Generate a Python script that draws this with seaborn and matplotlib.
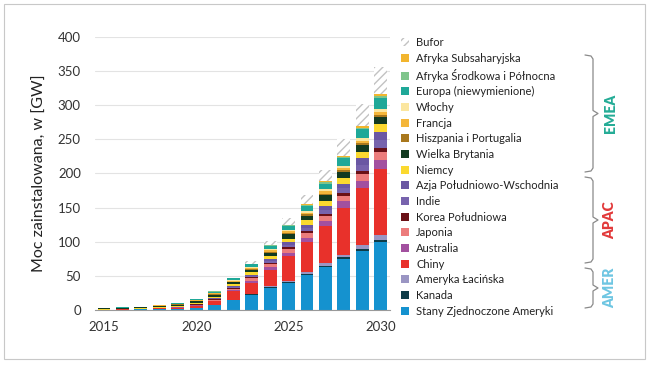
# Moc zainstalowana wg regionów, 2015-2030 (wykres słupkowy skumulowany)
import pandas as pd
import matplotlib
matplotlib.use('Agg')
import matplotlib.pyplot as plt
from matplotlib.patches import Patch, Rectangle
from matplotlib.lines import Line2D
import seaborn as sns

lata = list(range(2015, 2031))

# wartości w GW (od dołu stosu)
usa = [0.3, 0.4, 0.6, 1.0, 1.5, 3, 7, 14, 22, 32, 40, 51, 63, 75, 87, 99]
kanada = [0, 0, 0, 0.1, 0.1, 0.2, 0.3, 0.5, 1, 1, 1, 1.5, 2, 2, 2.5, 3]
ameryka_lac = [0, 0, 0, 0.1, 0.2, 0.2, 0.3, 0.5, 1, 1.5, 2, 2.5, 3, 4, 6, 8]
chiny = [0.2, 0.3, 0.5, 1.0, 1.5, 3, 5, 12, 16, 24, 36, 45, 55, 69, 83, 96]
australia = [0, 0, 0, 0.1, 0.2, 0.5, 1, 2, 3, 4, 5, 6, 7, 9, 11, 14]
japonia = [0, 0, 0.1, 0.2, 0.4, 0.8, 1.5, 2, 3, 4, 5, 6, 7, 8, 10, 12]
korea = [0, 0, 0.1, 0.2, 0.4, 0.6, 1, 1.5, 2, 2.5, 3, 3.5, 4, 4, 4.5, 5]
indie = [0, 0, 0, 0.1, 0.2, 0.3, 0.5, 1, 1.5, 2.5, 3.5, 4.5, 6, 7, 9, 12]
azja_pw = [0, 0, 0, 0, 0.1, 0.2, 0.5, 1, 1.5, 2.5, 3.5, 4.5, 5.5, 7, 9, 12]
niemcy = [0.5, 0.6, 0.8, 1.0, 1.2, 1.8, 2.5, 3, 4, 5, 5.5, 6.5, 7.5, 8.5, 10, 12]
wielka_br = [1.2, 1.4, 1.5, 1.8, 2, 2.2, 2.5, 3, 4, 5, 6, 7, 8, 9, 9.5, 10]
hiszp_port = [0.2, 0.3, 0.4, 0.5, 0.6, 0.8, 1, 1, 1.5, 1.5, 2, 2, 2.5, 2.5, 3, 3]
francja = [0.1, 0.2, 0.3, 0.4, 0.5, 0.8, 1, 1.5, 1.5, 2, 2.5, 2.5, 3, 3.5, 3.5, 4]
wlochy = [0, 0, 0.1, 0.2, 0.3, 0.4, 0.6, 0.8, 1, 1.5, 2, 2.5, 3, 3, 3.5, 4]
europa = [0.3, 0.4, 0.5, 0.8, 1, 1.5, 2, 2.5, 3.5, 4.5, 6, 7, 8.5, 11, 13, 17]
afryka_sp = [0, 0, 0, 0, 0.1, 0.2, 0.3, 0.5, 0.5, 1, 1, 1.5, 2, 2, 2.5, 3]
afryka_ss = [0, 0, 0, 0, 0, 0.1, 0.2, 0.3, 0.5, 0.5, 1, 1, 1.5, 1.5, 2, 2]
bufor = [0, 0, 0, 0, 0, 0, 0, 0, 4, 6, 9, 14, 17, 24, 32, 40]

# kolejność legendy (od góry)
nazwy = ['Bufor', 'Afryka Subsaharyjska', 'Afryka Środkowa i Północna',
         'Europa (niewymienione)', 'Włochy', 'Francja', 'Hiszpania i Portugalia',
         'Wielka Brytania', 'Niemcy', 'Azja Południowo-Wschodnia', 'Indie',
         'Korea Południowa', 'Japonia', 'Australia', 'Chiny', 'Ameryka Łacińska',
         'Kanada', 'Stany Zjednoczone Ameryki']
serie = [bufor, afryka_ss, afryka_sp, europa, wlochy, francja, hiszp_port,
         wielka_br, niemcy, azja_pw, indie, korea, japonia, australia, chiny,
         ameryka_lac, kanada, usa]
kolory = ['#ffffff', '#f2b52e', '#7fc58c', '#1fa898', '#fbe6a0', '#f4b63a',
          '#a9781d', '#123a20', '#fbd92f', '#6a57a3', '#7763ad', '#6a1016',
          '#ec7c7c', '#a2509f', '#e8312b', '#9a95c3', '#0e3c48', '#1592cf']

df = pd.DataFrame([
    {'rok': r, 'region': n, 'GW': v}
    for n, s in zip(nazwy, serie) for r, v in zip(lata, s)
])

sns.set_style('white')
plt.rcParams['font.family'] = ['Lato', 'DejaVu Sans']

fig = plt.figure(figsize=(6.49, 3.65), dpi=100)
ax = fig.add_axes([0.146, 0.151, 0.455, 0.748])

sns.histplot(data=df, x='rok', weights='GW', hue='region', hue_order=nazwy,
             palette=dict(zip(nazwy, kolory)), multiple='stack', discrete=True,
             shrink=0.7, alpha=1, linewidth=0, legend=False, ax=ax)

# bufor - kreskowanie
for p in ax.patches:
    if p.get_facecolor()[:3] == (1.0, 1.0, 1.0):
        p.set_edgecolor('#c2c2c2')
        p.set_hatch('////')
        p.set_linewidth(0)

ax.set_xlim(2014.5, 2030.5)
ax.set_ylim(0, 400)
ax.set_yticks(range(0, 401, 50))
ax.set_xticks([2015, 2020, 2025, 2030])
ax.set_xticks([x + 0.5 for x in range(2014, 2031)], minor=True)
ax.tick_params(axis='x', which='major', length=0, labelsize=9.5, colors='#333333', pad=8)
ax.tick_params(axis='x', which='minor', length=3, width=0.8, color='#9a9a9a', direction='out')
ax.tick_params(axis='y', length=0, labelsize=9.5, colors='#333333', pad=10)
ax.yaxis.grid(True, color='#e3e3e3', linewidth=0.8)
ax.set_axisbelow(True)
for s in ['top', 'right', 'left']:
    ax.spines[s].set_visible(False)
ax.spines['bottom'].set_color('#9a9a9a')
ax.spines['bottom'].set_linewidth(0.8)
ax.set_xlabel('')
ax.set_ylabel('Moc zainstalowana, w [GW]', fontsize=11.5, color='#222222', labelpad=8)

# legenda
uchwyty = []
for n, k in zip(nazwy, kolory):
    if n == 'Bufor':
        uchwyty.append(Patch(facecolor='white', edgecolor='#c2c2c2', hatch='////',
                             linewidth=0, label=n))
    else:
        uchwyty.append(Patch(facecolor=k, linewidth=0, label=n))
fig.legend(handles=uchwyty, loc='upper left', bbox_to_anchor=(0.618, 0.898),
           frameon=False, fontsize=8, handlelength=0.75, handleheight=0.75,
           handletextpad=0.6, labelspacing=0.42, borderaxespad=0, borderpad=0,
           labelcolor='#222222')


# nawiasy klamrowe regionów
def klamra(y_gora, y_dol, x=593):
    H = 365.0
    sr = (y_gora + y_dol) / 2
    xs = [585, x - 2, x, x, x + 5, x, x, x - 2, 585]
    ys = [y_gora, y_gora + 1, y_gora + 4, sr - 3, sr, sr + 3, y_dol - 4, y_dol - 1, y_dol]
    fig.add_artist(Line2D([v / 649 for v in xs], [(H - v) / H for v in ys],
                          transform=fig.transFigure, color='#8a8a8a', linewidth=0.9))
    return sr


regiony = [('EMEA', 55, 172, '#24ac96'), ('APAC', 177, 263, '#e2393a'),
           ('AMER', 268, 308, '#6ec6e2')]
for nazwa, g, d, kol in regiony:
    sr = klamra(g, d)
    fig.text(610 / 649, (365 - sr) / 365, nazwa, rotation=90, ha='center', va='center',
             fontsize=10, fontweight='heavy', color=kol)

# ramka wokół rysunku
fig.add_artist(Rectangle((0.006, 0.016), 0.988, 0.972, transform=fig.transFigure,
                         fill=False, edgecolor='#c8c8c8', linewidth=0.8))

fig.savefig('out.png', dpi=100)
